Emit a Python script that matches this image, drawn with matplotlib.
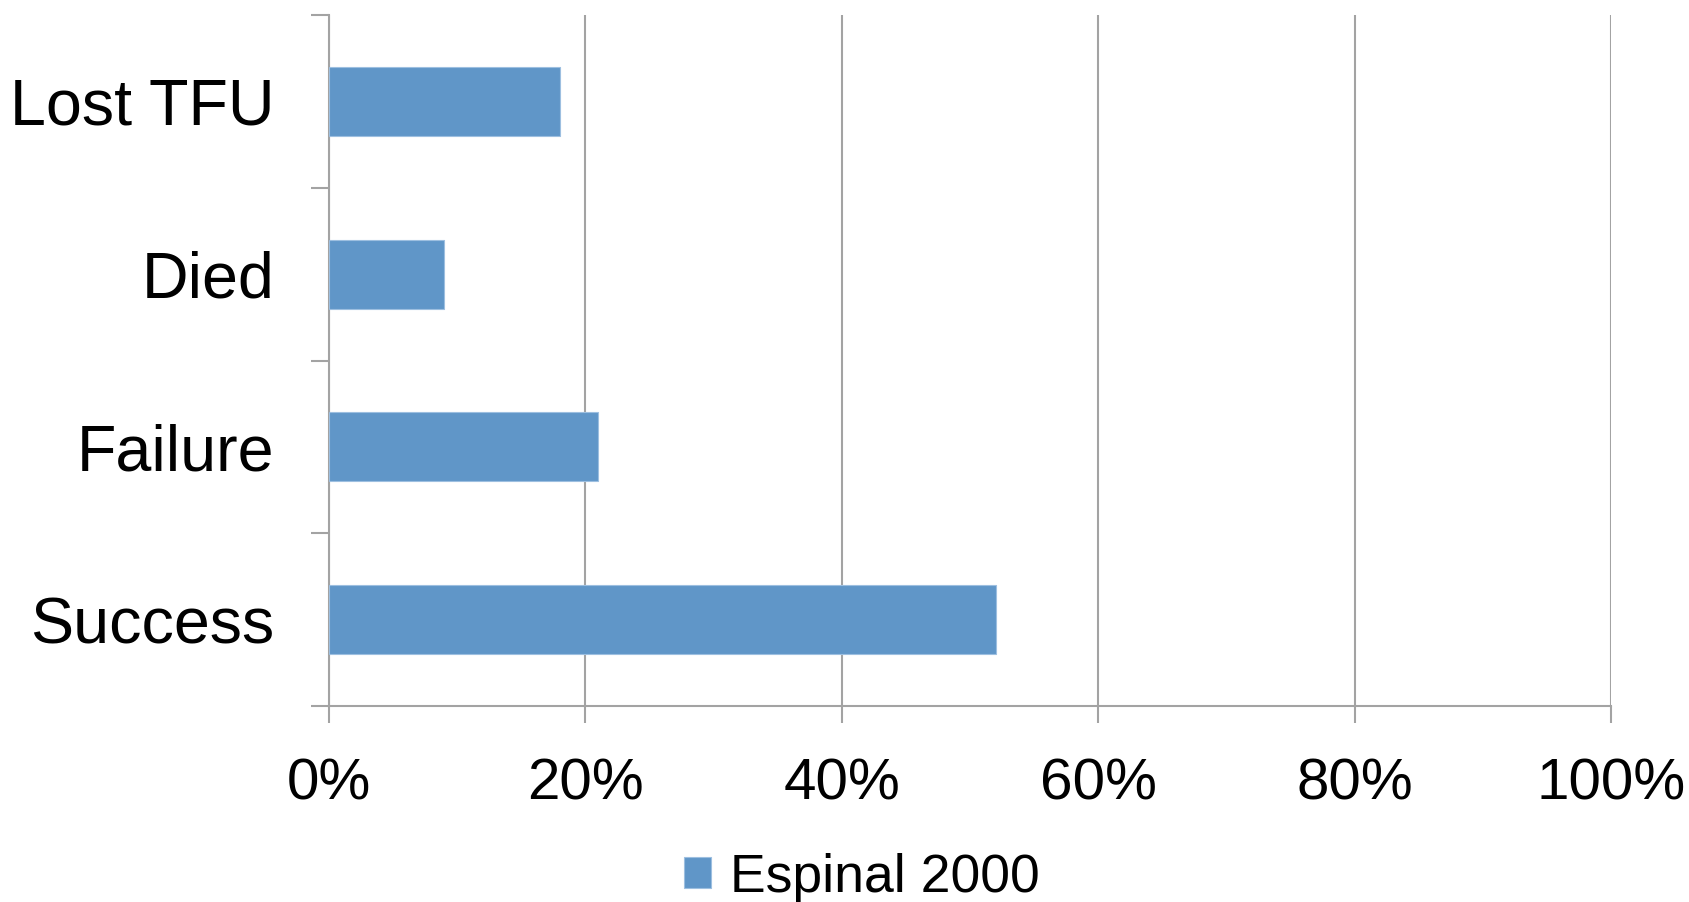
import matplotlib
matplotlib.use("Agg")
import matplotlib.pyplot as plt
from matplotlib.ticker import FixedLocator, FuncFormatter

plt.rcParams['font.family'] = ['Liberation Sans', 'DejaVu Sans']

categories = ["Success", "Failure", "Died", "Lost TFU"]
values = [52, 21, 9, 18]
series_name = "Espinal 2000"
x_ticks = [0, 20, 40, 60, 80, 100]

bar_color = "#6096C8"
grid_color = "#A3A3A3"

fig = plt.figure(figsize=(16.9, 9.02), dpi=100)
ax = fig.add_axes([329 / 1690, 1 - 706 / 902, (1611 - 329) / 1690, (706 - 15) / 902])

pos = list(range(len(categories)))
ax.barh(pos, values, height=0.4, color=bar_color, edgecolor="#9DBFE0",
        linewidth=0.8, label=series_name, zorder=3)

ax.set_xlim(0, 100)
ax.set_ylim(-0.5, len(categories) - 0.5)

ax.xaxis.set_major_locator(FixedLocator(x_ticks))
ax.xaxis.set_major_formatter(FuncFormatter(lambda v, p: f"{int(v)}%"))
ax.grid(axis="x", color=grid_color, linewidth=1.5, zorder=0)
ax.set_axisbelow(True)

# category boundaries get tick marks; names sit at the centres
ax.yaxis.set_major_locator(FixedLocator([i - 0.5 for i in range(len(categories) + 1)]))
ax.yaxis.set_major_formatter(FuncFormatter(lambda v, p: ""))
ax.yaxis.set_minor_locator(FixedLocator(pos))
ax.set_yticklabels(categories, minor=True)

ax.tick_params(axis="y", which="major", direction="out", length=13, width=1.5,
               color=grid_color)
ax.tick_params(axis="y", which="minor", length=0, pad=39.5, labelsize=46.5)
ax.tick_params(axis="x", which="major", direction="out", length=12, width=1.5,
               color=grid_color, pad=25, labelsize=42)

for side in ("top", "right"):
    ax.spines[side].set_visible(False)
for side in ("left", "bottom"):
    ax.spines[side].set_color(grid_color)
    ax.spines[side].set_linewidth(1.5)

fig.legend(loc="center", bbox_to_anchor=(0.51, 0.027), frameon=False,
           fontsize=38.5, handlelength=0.5, handleheight=0.5, handletextpad=0.35)

fig.savefig("out.png", dpi=100, facecolor="white")
